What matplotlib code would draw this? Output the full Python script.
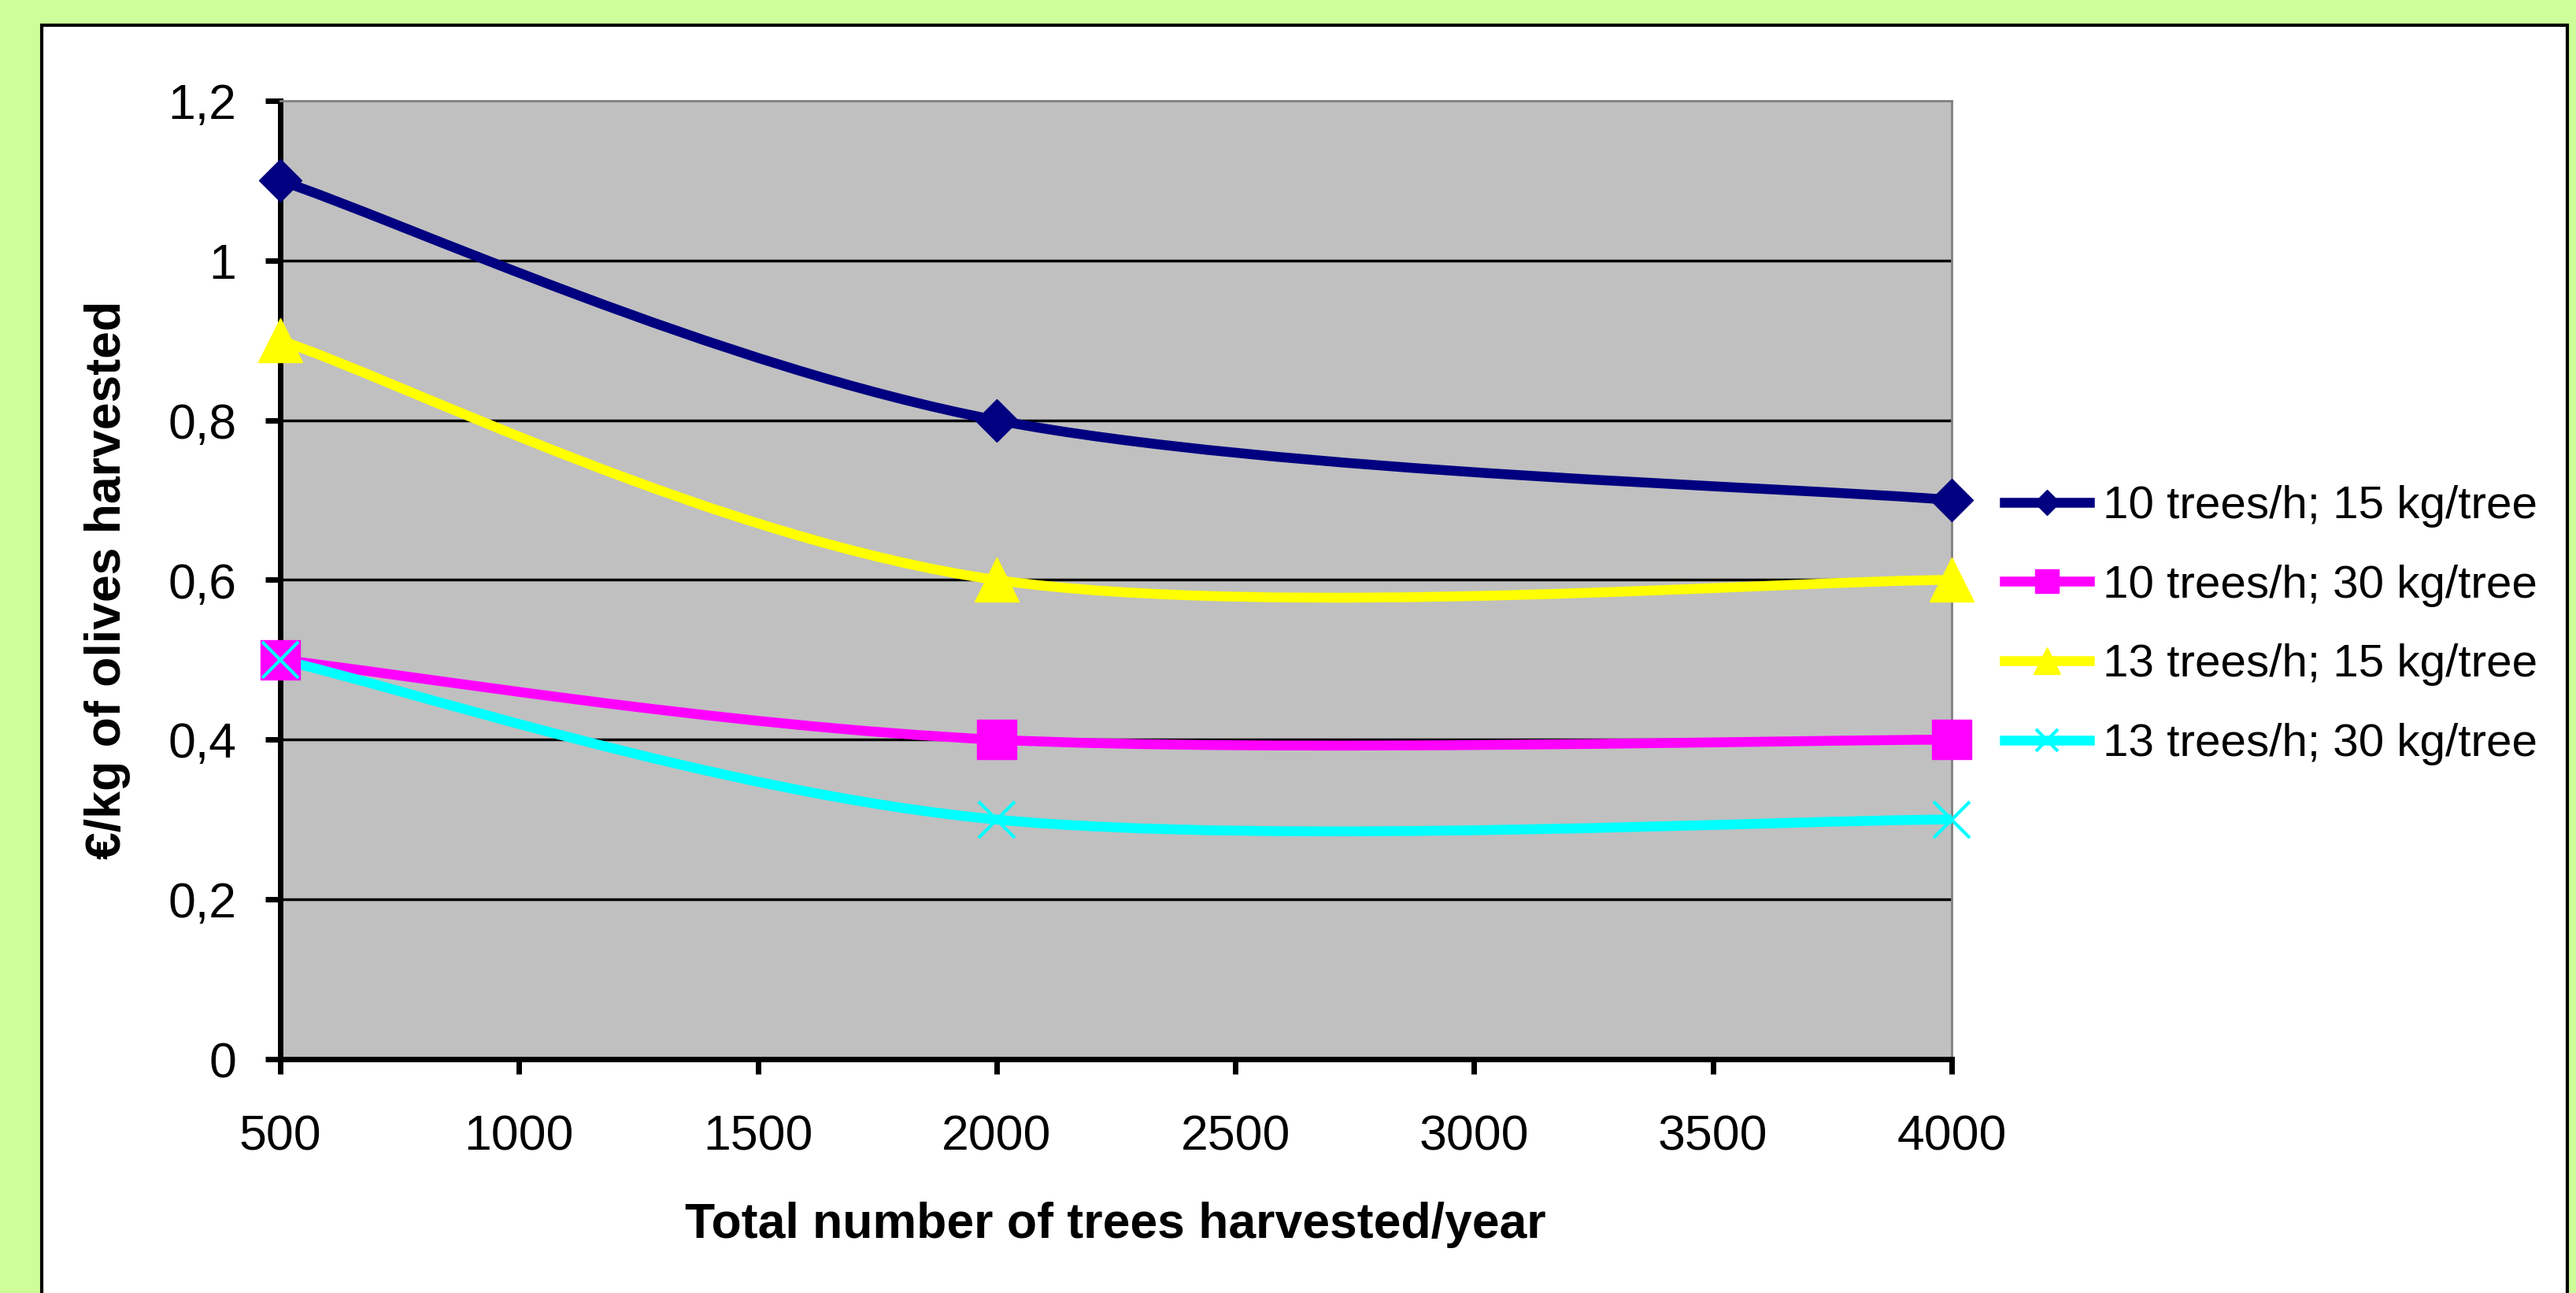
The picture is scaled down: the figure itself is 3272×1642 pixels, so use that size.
import numpy as np
import matplotlib.pyplot as plt
from matplotlib.path import Path
from matplotlib.patches import PathPatch, Rectangle
from matplotlib.lines import Line2D

plt.rcParams['font.family'] = ['Liberation Sans', 'DejaVu Sans']

# data ------------------------------------------------------------------------
trees_per_year = [500, 2000, 4000]
cost_10h_15kg = [1.1, 0.8, 0.7]
cost_10h_30kg = [0.5, 0.4, 0.4]
cost_13h_15kg = [0.9, 0.6, 0.6]
cost_13h_30kg = [0.5, 0.3, 0.3]

series_labels = ['10 trees/h; 15 kg/tree', '10 trees/h; 30 kg/tree',
                 '13 trees/h; 15 kg/tree', '13 trees/h; 30 kg/tree']
series_colors = ['#000080', '#FF00FF', '#FFFF00', '#00FFFF']
series_markers = ['D', 's', '^', 'x']
marker_sizes = [28, 36, 40, 33]

x_ticks = [500, 1000, 1500, 2000, 2500, 3000, 3500, 4000]
y_ticks = [0, 0.2, 0.4, 0.6, 0.8, 1.0, 1.2]
y_tick_labels = ['0', '0,2', '0,4', '0,6', '0,8', '1', '1,2']


def smooth_path(x, y):
    # excel style smoothed line: cubic bezier segments through the points
    pts = np.column_stack([x, y]).astype(float)
    n = len(pts)
    verts = [pts[0]]
    codes = [Path.MOVETO]
    for i in range(n - 1):
        p_prev = pts[max(i - 1, 0)]
        p_next2 = pts[min(i + 2, n - 1)]
        c1 = pts[i] + (pts[i + 1] - p_prev) / 6
        c2 = pts[i + 1] - (p_next2 - pts[i]) / 6
        verts += [c1, c2, pts[i + 1]]
        codes += [Path.CURVE4] * 3
    return Path(verts, codes)


W, H = 3273, 1642
fig = plt.figure(figsize=(W / 100, H / 100), dpi=100, facecolor='#CCFF99')

# white chart area with black border
fig.patches.append(Rectangle((53 / W, -0.05), (3261 - 53) / W, 1 - 32 / H + 0.05,
                             transform=fig.transFigure, facecolor='white',
                             edgecolor='black', linewidth=3, zorder=-5))

ax = fig.add_axes([356 / W, 1 - 1345 / H, (2479 - 356) / W, (1345 - 128) / H])
ax.set_facecolor('#C0C0C0')

for yt in y_ticks[1:-1]:
    ax.axhline(yt, color='black', lw=2.5, zorder=1)

all_series = [cost_10h_15kg, cost_10h_30kg, cost_13h_15kg, cost_13h_30kg]
handles = []
for vals, col, mk, ms, lab in zip(all_series, series_colors, series_markers,
                                  marker_sizes, series_labels):
    ax.add_patch(PathPatch(smooth_path(trees_per_year, vals), facecolor='none',
                           edgecolor=col, lw=9, joinstyle='round', zorder=3))
    mew = 3 if mk == 'x' else 1
    ax.plot(trees_per_year, vals, linestyle='none', marker=mk, ms=ms, color=col,
            mew=mew, clip_on=False, zorder=4)
    handles.append(Line2D([], [], color=col, lw=9, marker=mk, ms=ms, mew=mew,
                          label=lab))

ax.set_xlim(500, 4000)
ax.set_ylim(0, 1.2)
ax.set_xticks(x_ticks)
ax.set_xticklabels([str(v) for v in x_ticks])
ax.set_yticks(y_ticks)
ax.set_yticklabels(y_tick_labels)
ax.tick_params(axis='both', direction='out', length=14, width=5, labelsize=45)
ax.tick_params(axis='y', pad=26)
ax.tick_params(axis='x', pad=36)

for side in ['left', 'bottom']:
    ax.spines[side].set_linewidth(5)
    ax.spines[side].set_color('black')
for side in ['top', 'right']:
    ax.spines[side].set_linewidth(2)
    ax.spines[side].set_color('#808080')

fig.text(137 / W, 1 - 736 / H, '€/kg of olives harvested', rotation=90,
         ha='center', va='center', fontsize=45, fontweight='bold')
fig.text(1417 / W, 1 - 1572 / H, 'Total number of trees harvested/year',
         ha='center', va='baseline', fontsize=45, fontweight='bold')

fig.legend(handles=handles, loc='center left', bbox_to_anchor=(2546 / W, 1 - 794 / H),
           frameon=False, fontsize=42, handlelength=1.85, handletextpad=0.3,
           labelspacing=0.8, borderpad=0, borderaxespad=0, markerscale=0.6)

fig.savefig('out.png', dpi=100, facecolor=fig.get_facecolor())
